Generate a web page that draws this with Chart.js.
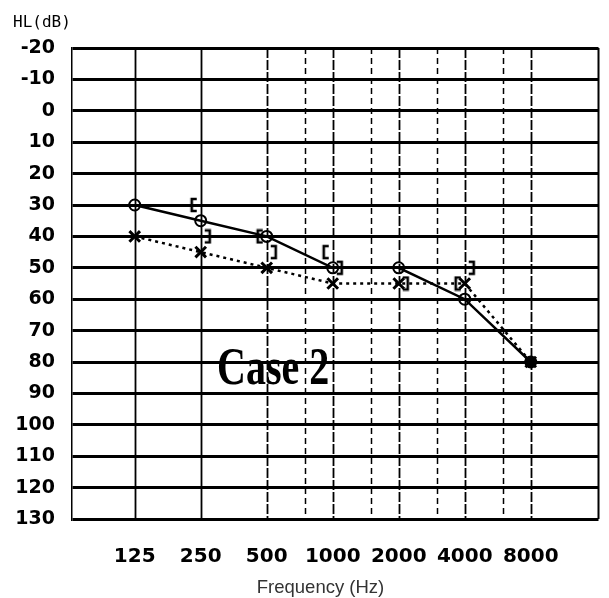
<!DOCTYPE html>
<html>
<head>
<meta charset="utf-8">
<script src="https://cdn.jsdelivr.net/npm/chart.js@4/dist/chart.umd.min.js"></script>
<style>
  html, body { margin: 0; padding: 0; background: #fff; }
  #wrap { width: 609px; height: 598px; position: relative; }
</style>
</head>
<body>
<div id="wrap"><canvas id="c" width="609" height="598"></canvas></div>
<script>
// ---- data ----
const frequencies = [125, 250, 500, 1000, 2000, 4000, 8000];
const rightAirConduction = [30, 35, 40, 50, 50, 60, 80];   // circles, solid line
const leftAirConduction  = [40, 45, 50, 55, 55, 55, 80];   // crosses, dotted line
const rightBoneFreqs = [250, 500, 1000, 4000];              // "[" marks
const rightBoneValues = [30, 40, 45, 55];
const leftBoneFreqs = [250, 500, 1000, 2000, 4000];         // "]" marks
const leftBoneValues = [40, 45, 50, 55, 50];
const xTickLabels = [125, 250, 500, 1000, 2000, 4000, 8000];
const halfOctaveLines = [750, 1500, 3000, 6000];
const yTickLabels = [-20, -10, 0, 10, 20, 30, 40, 50, 60, 70, 80, 90, 100, 110, 120, 130];
const caseLabel = "Case 2";
const yAxisTitle = "HL(dB)";
const xAxisTitle = "Frequency (Hz)";

const pts = (xs, ys) => xs.map((x, i) => ({ x: x, y: ys[i] }));

function bracketImage(side) {
  const cv = document.createElement('canvas');
  cv.width = 30; cv.height = 16;
  const g = cv.getContext('2d');
  g.strokeStyle = '#000';
  g.lineWidth = 2.6;
  g.lineJoin = 'miter';
  g.beginPath();
  if (side === 'left') {
    g.moveTo(11, 2); g.lineTo(6, 2); g.lineTo(6, 14); g.lineTo(11, 14);
  } else {
    g.moveTo(19, 2); g.lineTo(24, 2); g.lineTo(24, 14); g.lineTo(19, 14);
  }
  g.stroke();
  return cv;
}

const overlay = {
  id: 'overlay',
  beforeDatasetsDraw(chart) {
    const { ctx, chartArea: a, scales: { x } } = chart;
    ctx.save();
    ctx.strokeStyle = '#000';
    xTickLabels.forEach(f => {
      const px = Math.round(x.getPixelForValue(f)) + 0.5;
      ctx.lineWidth = 1.8;
      ctx.setLineDash(f >= 500 ? [10, 2] : []);
      ctx.beginPath(); ctx.moveTo(px, a.top); ctx.lineTo(px, a.bottom); ctx.stroke();
    });
    halfOctaveLines.forEach(f => {
      const px = Math.round(x.getPixelForValue(f)) + 0.5;
      ctx.lineWidth = 1.5;
      ctx.setLineDash([6, 4]);
      ctx.beginPath(); ctx.moveTo(px, a.top); ctx.lineTo(px, a.bottom); ctx.stroke();
    });
    ctx.setLineDash([]);
    ctx.lineWidth = 2;
    ctx.beginPath(); ctx.moveTo(a.right, a.top); ctx.lineTo(a.right, a.bottom); ctx.stroke();
    ctx.restore();
  },
  afterDraw(chart) {
    const { ctx, chartArea: a, scales: { x, y } } = chart;
    ctx.save();
    ctx.fillStyle = '#000';
    // y axis title
    ctx.font = '16px "DejaVu Sans Mono"';
    ctx.textAlign = 'left';
    ctx.textBaseline = 'alphabetic';
    ctx.fillText(yAxisTitle, 13, 27);
    // case label
    ctx.save();
    ctx.translate(x.getPixelForValue(535), y.getPixelForValue(81.5));
    ctx.scale(1, 1.3);
    ctx.font = 'bold 40px "Liberation Serif"';
    ctx.textAlign = 'center';
    ctx.textBaseline = 'alphabetic';
    ctx.fillText(caseLabel, 0, 13);
    ctx.restore();
    // x axis title
    ctx.fillStyle = '#333';
    ctx.font = '18.5px "Liberation Sans"';
    ctx.textAlign = 'center';
    ctx.textBaseline = 'alphabetic';
    ctx.fillText(xAxisTitle, a.left + (a.right - a.left) * 0.472, 593);
    ctx.restore();
  }
};

new Chart(document.getElementById('c'), {
  type: 'line',
  data: {
    datasets: [
      {
        label: 'Right AC',
        data: pts(frequencies, rightAirConduction),
        borderColor: '#000', borderWidth: 2.5,
        pointStyle: 'circle', pointRadius: 5.5,
        pointBorderWidth: 2, pointBorderColor: '#000',
        pointBackgroundColor: c => (c.dataIndex === frequencies.length - 1 ? '#000' : 'rgba(0,0,0,0)'),
        tension: 0
      },
      {
        label: 'Left AC',
        data: pts(frequencies, leftAirConduction),
        borderColor: '#000', borderWidth: 2.5, borderDash: [3, 4],
        pointStyle: 'crossRot', pointRadius: 7.5,
        pointBorderWidth: 3, pointBorderColor: '#000',
        tension: 0
      },
      {
        label: 'Right BC',
        data: pts(rightBoneFreqs, rightBoneValues),
        showLine: false,
        pointStyle: bracketImage('left'), pointRadius: 8
      },
      {
        label: 'Left BC',
        data: pts(leftBoneFreqs, leftBoneValues),
        showLine: false,
        pointStyle: bracketImage('right'), pointRadius: 8
      }
    ]
  },
  options: {
    responsive: false,
    animation: false,
    layout: { padding: { top: 48, right: 8, left: 0, bottom: 0 } },
    plugins: { legend: { display: false }, tooltip: { enabled: false } },
    scales: {
      x: {
        type: 'logarithmic',
        position: 'bottom',
        min: 64.7,
        max: 16300,
        grid: { display: false, drawTicks: false },
        border: { display: false },
        ticks: {
          autoSkip: false, maxRotation: 0, minRotation: 0,
          color: '#000', padding: 26,
          font: { family: 'DejaVu Sans', weight: 'bold', size: 20 },
          callback: v => String(v)
        },
        afterBuildTicks: s => { s.ticks = xTickLabels.map(v => ({ value: v })); },
        afterFit: s => { s.height = 79; }
      },
      y: {
        type: 'linear',
        reverse: true,
        min: -20,
        max: 130,
        grid: { color: '#000', lineWidth: 3, drawTicks: false },
        border: { display: true, color: '#000', width: 1.5 },
        ticks: {
          color: '#000', padding: 17,
          font: { family: 'DejaVu Sans', weight: 'bold', size: 19 },
          callback: v => String(v)
        },
        afterBuildTicks: s => { s.ticks = yTickLabels.map(v => ({ value: v })); },
        afterFit: s => { s.width = 72; }
      }
    }
  },
  plugins: [overlay]
});
</script>
</body>
</html>
